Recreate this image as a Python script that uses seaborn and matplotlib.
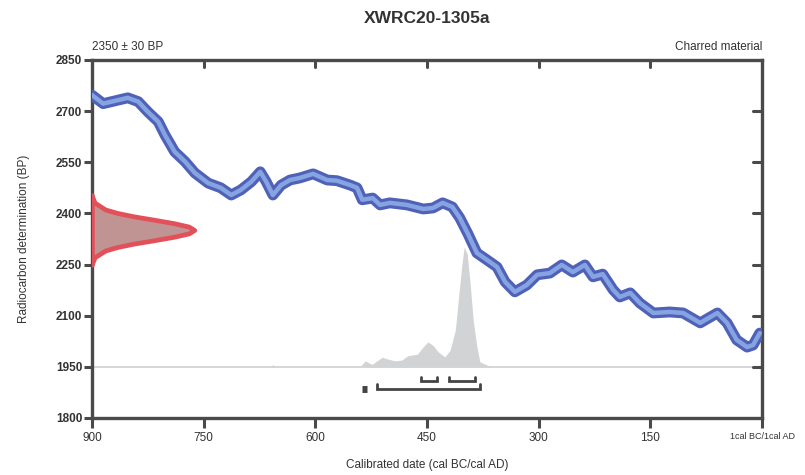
import numpy as np
import pandas as pd
import matplotlib
matplotlib.use("Agg")
import matplotlib.pyplot as plt
import seaborn as sns

# ---- data ----
curve_year = [900, 885, 852, 838, 825, 811, 802, 789, 775, 762, 744, 727, 713, 700,
              686, 674, 666, 657, 646, 634, 621, 603, 584, 571, 553, 544, 537, 523,
              513, 500, 477, 455, 442, 429, 416, 406, 395, 383, 369, 356, 345, 332,
              316, 302, 285, 269, 254, 238, 227, 214, 200, 191, 177, 164, 146, 124,
              106, 83, 60, 47, 34, 20, 12, 3]
curve_bp = [2747, 2722, 2739, 2728, 2698, 2669, 2630, 2581, 2552, 2519, 2489, 2475,
            2454, 2469, 2493, 2522, 2493, 2454, 2483, 2498, 2504, 2516, 2498, 2496,
            2483, 2475, 2440, 2445, 2425, 2431, 2425, 2413, 2416, 2431, 2419, 2387,
            2340, 2284, 2263, 2243, 2199, 2170, 2190, 2220, 2225, 2249, 2228, 2249,
            2214, 2222, 2176, 2155, 2167, 2137, 2108, 2111, 2108, 2079, 2108, 2079,
            2029, 2008, 2014, 2049]

post_year = [660, 657, 654, 540, 533, 524, 510, 504, 493, 484, 476, 463, 455, 449,
             442, 435, 426, 419, 412, 408, 403, 400, 396, 392, 388, 383, 379, 369, 363]
post_prob = [0.0, 0.02, 0.0, 0.0, 0.05, 0.02, 0.08, 0.067, 0.05, 0.056, 0.092, 0.106,
             0.167, 0.208, 0.18, 0.125, 0.083, 0.139, 0.306, 0.556, 0.86, 1.0, 0.94,
             0.69, 0.39, 0.167, 0.042, 0.014, 0.0]

meas_bp = [2250, 2270, 2290, 2300, 2310, 2320, 2330, 2340, 2350, 2360, 2370, 2380,
           2390, 2400, 2410, 2430, 2450]
meas_prob = [0.004, 0.03, 0.135, 0.25, 0.41, 0.61, 0.80, 0.946, 1.0, 0.946, 0.80,
             0.61, 0.41, 0.25, 0.135, 0.03, 0.004]

range68 = [(458, 437), (420, 386)]
range95 = [(537, 531), (517, 379)]

x_ticks = [900, 750, 600, 450, 300, 150, 0]
x_ticklabels = ["900", "750", "600", "450", "300", "150", "1cal BC/1cal AD"]
y_ticks = [1800, 1950, 2100, 2250, 2400, 2550, 2700, 2850]

title = "XWRC20-1305a"
meas_text = "2350 ± 30 BP"
material_text = "Charred material"

# ---- styling ----
sns.set_theme(style="white")
plt.rcParams["font.family"] = ["Liberation Sans", "DejaVu Sans"]

fig = plt.figure(figsize=(8.05, 4.75), dpi=100)
ax = fig.add_axes([0.1143, 0.12, 0.8323, 0.7537])

spine_c = "#4a4a4a"
dark_blue = "#5061b8"
light_blue = "#86a4e2"

# posterior (grey) distribution
post_peak_bp = 352
ax.axhline(1950, color="#d0d0d0", lw=1.2, zorder=1)
ax.fill_between(post_year, 1950, 1950 + np.array(post_prob) * post_peak_bp,
                color="#d2d3d4", lw=0, zorder=2)

# measurement distribution (red) along y axis
meas_width = 138
mx = 900 - np.array(meas_prob) * meas_width
ax.fill_betweenx(meas_bp, 900, mx, color="#c19494", lw=0, zorder=3)
ax.plot(mx, meas_bp, color="#e2505a", lw=3.4, zorder=4, solid_capstyle="round")
ax.plot([900, 900], [meas_bp[0], meas_bp[-1]], color="#e2505a", lw=4, zorder=4)

# calibration curve
cdf = pd.DataFrame({"year": curve_year, "bp": curve_bp})
sns.lineplot(data=cdf, x="year", y="bp", sort=False, estimator=None, ax=ax,
             color=dark_blue, lw=7.8, zorder=5, solid_capstyle="round",
             solid_joinstyle="round")
sns.lineplot(data=cdf, x="year", y="bp", sort=False, estimator=None, ax=ax,
             color=light_blue, lw=3.2, zorder=6, solid_capstyle="round",
             solid_joinstyle="round")

# range brackets
def bracket(a, b, ybase, h):
    ax.plot([a, a, b, b], [ybase + h, ybase, ybase, ybase + h],
            color="#444444", lw=2, zorder=7, solid_joinstyle="miter")

for a, b in range68:
    bracket(a, b, 1909, 11)
for a, b in range95:
    if a - b < 10:
        ax.plot([a, b], [1886, 1886], color="#444444", lw=5, zorder=7,
                solid_capstyle="butt")
    else:
        bracket(a, b, 1884, 15)

ax.set_xlim(900, 0)
ax.set_ylim(1800, 2850)
ax.set_xticks(x_ticks)
ax.set_xticklabels(x_ticklabels)
ax.set_yticks(y_ticks)
for lab in ax.get_xticklabels():
    lab.set_fontsize(8.5)
ax.get_xticklabels()[-1].set_fontsize(6.5)
ax.tick_params(axis="x", direction="out", length=7, width=2.2, color=spine_c,
               labelcolor="#333333", pad=3, bottom=True)
ax.tick_params(axis="y", direction="out", length=6, width=2.2, color=spine_c,
               labelcolor="#333333", labelsize=8.5, pad=1, left=True)
for lab in ax.get_yticklabels():
    lab.set_fontweight("bold")

for s in ax.spines.values():
    s.set_visible(True)
    s.set_color(spine_c)
    s.set_linewidth(2.4)

# inward ticks on top/right
for xt in x_ticks[1:-1]:
    ax.plot([xt, xt], [2850, 2850 - 22], color=spine_c, lw=2.2, clip_on=False,
            zorder=8)
for yt in y_ticks[1:-1]:
    ax.plot([0, 12], [yt, yt], color=spine_c, lw=2.2, clip_on=False, zorder=8)

ax.set_xlabel("Calibrated date (cal BC/cal AD)", fontsize=8.5, color="#333333",
              labelpad=11)
ax.set_ylabel("Radiocarbon determination (BP)", fontsize=8.5, color="#333333",
              labelpad=19)

fig.text(0.531, 0.962, title, ha="center", va="center", fontsize=12.5,
         fontweight="bold", color="#333333")
ax.text(0.0, 1.02, meas_text, transform=ax.transAxes, ha="left", va="bottom",
        fontsize=8.5, color="#333333")
ax.text(1.0, 1.02, material_text, transform=ax.transAxes, ha="right", va="bottom",
        fontsize=8.5, color="#333333")

fig.savefig("out.png", dpi=100)
